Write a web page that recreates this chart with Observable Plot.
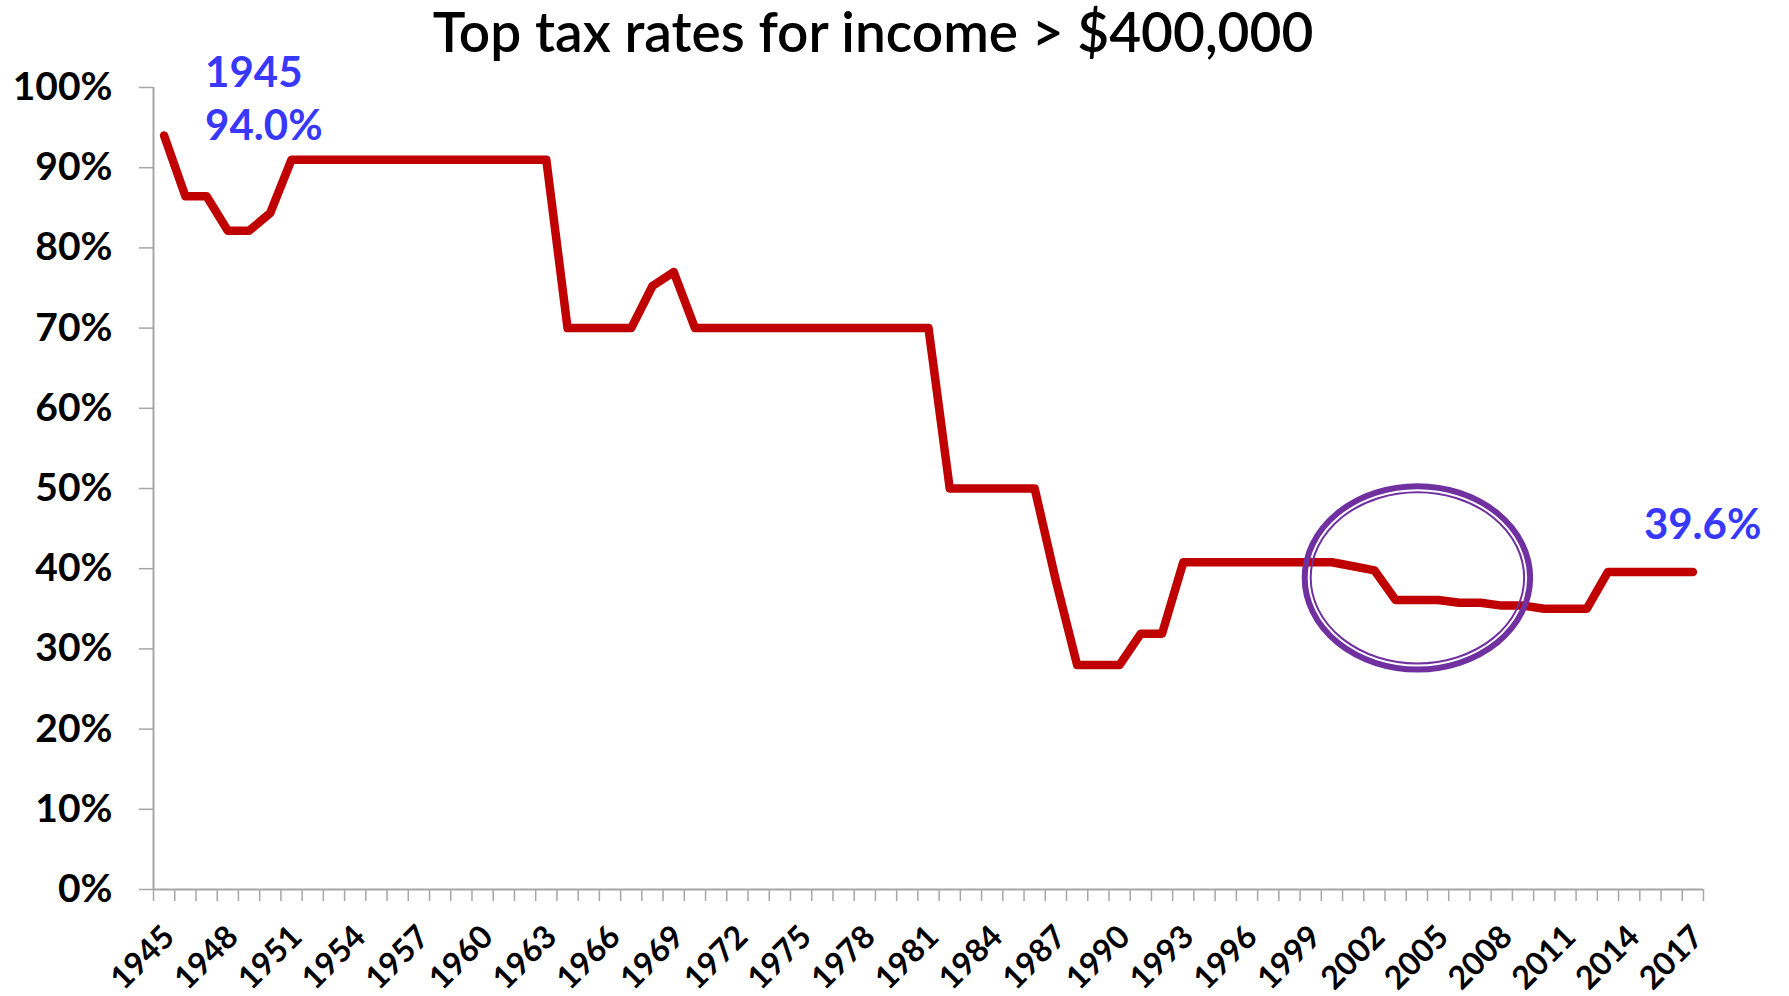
<!DOCTYPE html>
<html><head><meta charset="utf-8">
<script src="https://cdn.jsdelivr.net/npm/d3@7"></script>
<script src="https://cdn.jsdelivr.net/npm/@observablehq/plot@0.6"></script>
<style>
body{margin:0;background:#fff;width:1789px;}
#title{box-sizing:border-box;height:70px;padding-top:4px;width:1746px;text-align:center;font-family:Lato,"Open Sans",sans-serif;font-weight:600;font-size:55px;line-height:55px;color:#000;white-space:nowrap;}
</style></head><body>
<div id="title">Top tax rates for income &gt; $400,000</div>
<div id="chart"></div>
<script>
const years = [1945,1946,1947,1948,1949,1950,1951,1952,1953,1954,1955,1956,1957,1958,1959,1960,
  1961,1962,1963,1964,1965,1966,1967,1968,1969,1970,1971,1972,1973,1974,1975,1976,1977,1978,1979,1980,
  1981,1982,1983,1984,1985,1986,1987,1988,1989,1990,1991,1992,1993,1994,1995,1996,1997,1998,1999,2000,
  2001,2002,2003,2004,2005,2006,2007,2008,2009,2010,2011,2012,2013,2014,2015,2016,2017];
const rates = [94.0,86.45,86.45,82.13,82.13,84.36,91,91,91,91,91,91,91,91,91,91,
  91,91,91,70,70,70,70,75.25,77,70,70,70,70,70,70,70,70,70,70,70,
  70,50,50,50,50,50,38.5,28,28,28,31.9,31.9,40.8,40.8,40.8,40.8,40.8,40.8,40.8,40.8,
  40.3,39.8,36.1,36.1,36.1,35.75,35.75,35.4,35.4,35,35,35,39.6,39.6,39.6,39.6,39.6];
const yTicks = [0,10,20,30,40,50,60,70,80,90,100];
const labelYears = [1945,1948,1951,1954,1957,1960,1963,1966,1969,1972,1975,1978,1981,1984,1987,
  1990,1993,1996,1999,2002,2005,2008,2011,2014,2017];
const startLabel = ["1945", "94.0%"];
const endLabel = ["39.6%"];
// highlighted period (ellipse bounds in data units)
const highlightYears = [1998.6, 2009.5];
const highlightRates = [27.0, 50.6];

const data = years.map((year, i) => ({year, rate: rates[i]}));
const first = data[0], last = data[data.length - 1];
const tickEdges = d3.range(years[0] - 0.5, years[years.length - 1] + 1, 1);

function highlightEllipse(index, scales) {
  const {x, y} = scales;
  const x1 = x(highlightYears[0]), x2 = x(highlightYears[1]);
  const y1 = y(highlightRates[1]), y2 = y(highlightRates[0]);
  const cx = (x1 + x2) / 2, cy = (y1 + y2) / 2, rx = (x2 - x1) / 2, ry = (y2 - y1) / 2;
  const g = d3.create("svg:g");
  g.append("ellipse").attr("cx", cx).attr("cy", cy).attr("rx", rx - 3).attr("ry", ry - 3)
    .attr("fill", "none").attr("stroke", "#7030A0").attr("stroke-width", 6);
  g.append("ellipse").attr("cx", cx).attr("cy", cy).attr("rx", rx - 9).attr("ry", ry - 9)
    .attr("fill", "none").attr("stroke", "#7030A0").attr("stroke-width", 2);
  return g.node();
}

const blue = "#3838fb";
const chart = Plot.plot({
  width: 1789, height: 926,
  marginLeft: 153, marginRight: 86, marginTop: 17, marginBottom: 107,
  style: {fontFamily: "Lato, 'Open Sans', sans-serif", overflow: "visible", background: "white"},
  x: {type: "linear", domain: [years[0] - 0.5, years[years.length - 1] + 0.5]},
  y: {domain: [0, 100]},
  marks: [
    Plot.axisY({ticks: yTicks, tickFormat: d => d + "%", tickSize: 14, tickPadding: 27,
      fontSize: 39, fontWeight: "bold", stroke: "#a6a6a6", strokeWidth: 1.5, fill: "black", label: null}),
    Plot.axisX({ticks: tickEdges, tickSize: 12, tickFormat: () => "", stroke: "#a6a6a6",
      strokeWidth: 1.5, label: null}),
    Plot.axisX({ticks: labelYears, tickSize: 0, tickRotate: -45, tickPadding: 42, dx: 5,
      fontSize: 32, fontWeight: "bold", fill: "black", label: null, tickFormat: d => String(d)}),
    Plot.ruleX([years[0] - 0.5], {stroke: "#a6a6a6", strokeWidth: 2}),
    Plot.ruleY([0], {stroke: "#a6a6a6", strokeWidth: 2}),
    Plot.line(data, {x: "year", y: "rate", stroke: "#C00000", strokeWidth: 8.5,
      strokeLinejoin: "round", strokeLinecap: "round"}),
    highlightEllipse,
    Plot.text([first], {x: "year", y: "rate", text: () => startLabel[0], dx: 41, dy: -49,
      textAnchor: "start", lineAnchor: "bottom", fontSize: 42, fontWeight: "bold", fill: blue}),
    Plot.text([first], {x: "year", y: "rate", text: () => startLabel[1], dx: 41, dy: 4,
      textAnchor: "start", lineAnchor: "bottom", fontSize: 42, fontWeight: "bold", fill: blue}),
    Plot.text([last], {x: "year", y: "rate", text: () => endLabel[0], dx: -49, dy: -33,
      textAnchor: "start", lineAnchor: "bottom", fontSize: 42, fontWeight: "bold", fill: blue})
  ]
});
document.getElementById("chart").append(chart);
</script>
</body></html>
